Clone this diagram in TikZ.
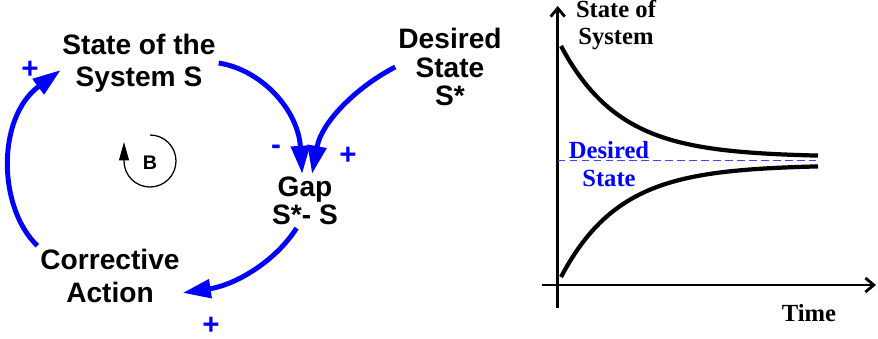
\documentclass[tikz,border=0pt]{standalone}
\usepackage{fontspec}
\setmainfont{Liberation Serif}
\setsansfont{Liberation Sans}
\usetikzlibrary{arrows.meta, positioning, calc}

\begin{document}
\begin{tikzpicture}[
    x=0.025cm, y=-0.025cm,
    var/.style={font=\sffamily\bfseries\fontsize{20}{20}\selectfont, align=center, inner sep=2pt},
    link/.style={draw=blue, line width=3.5pt, -{Triangle[length=20pt, width=13pt]}},
    sign/.style={text=blue, font=\sffamily\bfseries\fontsize{21}{21}\selectfont, inner sep=0pt},
    loopmark/.style={line width=0.9pt, -{Triangle[length=13pt, width=7pt]}},
    axis/.style={line width=2pt, -{Straight Barb[length=6pt, width=10pt]}},
    trace/.style={line width=3pt},
    axlabel/.style={font=\rmfamily\bfseries\fontsize{17.5}{19.5}\selectfont, align=center, inner sep=0pt}
]
\useasboundingbox (0,0) rectangle (878,339);

% 1. Causal loop variables
\node[var, font=\sffamily\bfseries\fontsize{20}{23}\selectfont] (sys) at (139,63) {State of the\\System S};
\node[var] (des) at (450,67) {Desired\\State\\S*};
\node[var] (gap) at (305,201) {Gap\\S*- S};
\node[var, font=\sffamily\bfseries\fontsize{20}{24}\selectfont] (cor) at (110,276) {Corrective\\Action};

% 2. Links
\draw[link] (sys.east) .. controls (262,70) and (298,110) .. ([xshift=-2pt]gap.north);
\draw[link] (des.west) .. controls (360,85) and (322,120) .. ([xshift=5pt]gap.north);
\draw[link] ([xshift=-6pt]gap.south) .. controls (275,262) and (235,285) .. ([yshift=-12pt]cor.east);
\draw[link] (cor.north west) .. controls (-2,208) and (-4,118) .. ([xshift=1pt, yshift=-5pt]sys.west);

% 3. Polarities and loop mark
\node[sign] (p1) at (30,70) {+};
\node[sign] (p2) at (276,150) {-};
\node[sign] (p3) at (348,156) {+};
\node[sign] (p4) at (211,326) {+};
\node[font=\sffamily\bfseries\fontsize{14}{14}\selectfont] (bal) at (150,163) {B};
\draw[loopmark] (150,135) arc[start angle=-90, end angle=180, radius=26] -- ++(0,-19);

% 4. Behaviour over time
\coordinate (ybot) at (557.7,308);
\coordinate (ytop) at (557.7,6);
\coordinate (xleft) at (541.7,285);
\coordinate (xright) at (876,285);
\draw[axis] (ybot) -- (ytop);
\draw[axis] (xleft) -- (xright);
\node[axlabel] (ylab) at (616,25) {State of\\System};
\node[axlabel] (xlab) at (809,313) {Time};

\coordinate (gstart) at (557.7,160);
\coordinate (gend) at (818,160);
\draw[blue!75, line width=0.7pt, dash pattern=on 5.5pt off 3pt] (gstart) -- (gend);
\node[axlabel, text=blue] (glab) at (609,164) {Desired\\State};

\draw[trace] plot[domain=561:818, samples=60] (\x, {157-111*exp(-0.017*(\x-561))});
\draw[trace] plot[domain=561:818, samples=60] (\x, {165+112*exp(-0.017*(\x-561))});

\end{tikzpicture}
\end{document}
